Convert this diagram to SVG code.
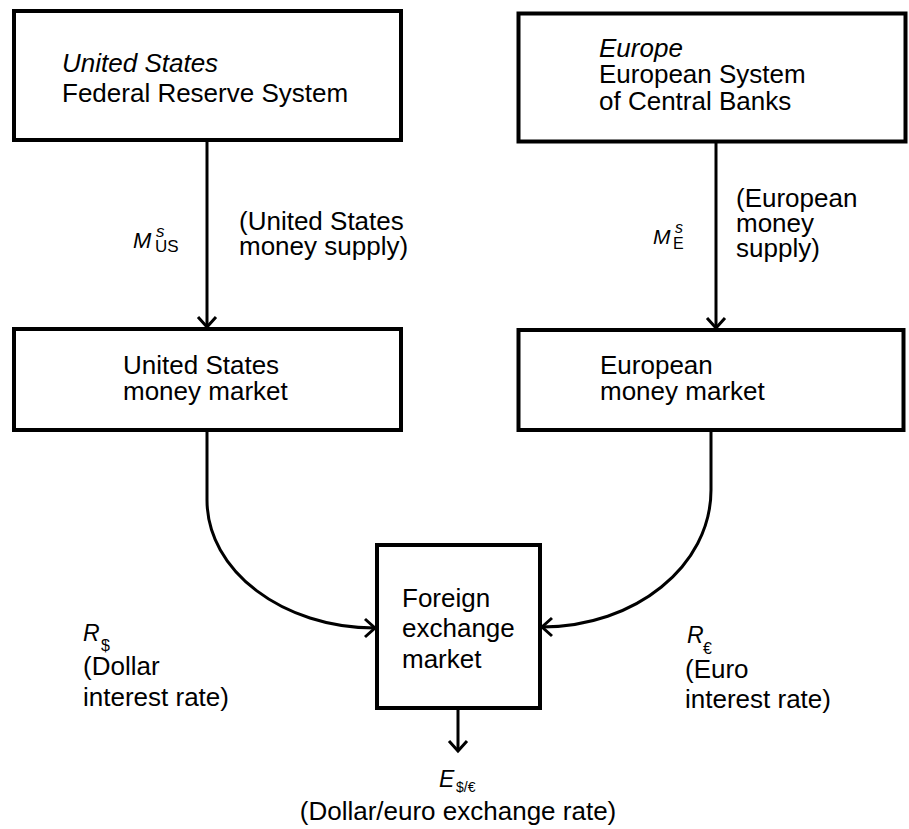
<svg xmlns="http://www.w3.org/2000/svg" width="909" height="829" viewBox="0 0 909 829">
<defs>
<style>
text{font-family:"Liberation Sans",Arial,sans-serif;font-size:26px;fill:#000}
.it{font-style:italic}
.sub{font-size:16px}
.box{fill:#fff;stroke:#000;stroke-width:4}
.conn{fill:none;stroke:#000;stroke-width:3}
</style>
<marker id="ah" markerUnits="userSpaceOnUse" markerWidth="24" markerHeight="24" viewBox="-12 -12 24 24" refX="0" refY="0" orient="auto">
<path d="M-10,-9 L0,0 L-10,9" fill="none" stroke="#000" stroke-width="3"/>
</marker>
</defs>
<rect width="909" height="829" fill="#fff"/>
<g id="connectors">
<path class="conn" d="M207,140 L207,327" marker-end="url(#ah)"/>
<path class="conn" d="M716,142 L716,328" marker-end="url(#ah)"/>
<path class="conn" d="M207,430 L207,500 C207,571 283,628 375,628" marker-end="url(#ah)"/>
<path class="conn" d="M711,430 L711,490 C711,566 635,627 542,627" marker-end="url(#ah)"/>
<path class="conn" d="M458,708 L458,751" marker-end="url(#ah)"/>
</g>
<g id="fed">
<rect class="box" x="14" y="11" width="387" height="129"/>
<text x="62" y="72" class="it">United States</text>
<text x="62" y="102">Federal Reserve System</text>
</g>
<g id="escb">
<rect class="box" x="518.5" y="13.5" width="387" height="128"/>
<text x="599" y="57" class="it">Europe</text>
<text x="599" y="83">European System</text>
<text x="599" y="110">of Central Banks</text>
</g>
<g id="us-money-market">
<rect class="box" x="14" y="329" width="387" height="101"/>
<text x="123" y="374">United States</text>
<text x="123" y="400">money market</text>
</g>
<g id="eu-money-market">
<rect class="box" x="518.5" y="330" width="385" height="100"/>
<text x="600" y="374">European</text>
<text x="600" y="400">money market</text>
</g>
<g id="fx-market">
<rect class="box" x="377" y="545" width="163" height="163"/>
<text x="402" y="607">Foreign</text>
<text x="402" y="637">exchange</text>
<text x="402" y="668">market</text>
</g>
<g id="label-us-supply">
<text x="133" y="248" class="it" style="font-size:22px">M</text>
<text x="156" y="237" class="it" style="font-size:17px">s</text>
<text x="155" y="252" style="font-size:17px">US</text>
<text x="239" y="230">(United States</text>
<text x="239" y="255">money supply)</text>
</g>
<g id="label-eu-supply">
<text x="653" y="244" class="it" style="font-size:21px">M</text>
<text x="675" y="233" class="it" style="font-size:16px">s</text>
<text x="673" y="249" style="font-size:16px">E</text>
<text x="736" y="207">(European</text>
<text x="736" y="232">money</text>
<text x="736" y="257">supply)</text>
</g>
<g id="label-dollar-rate">
<text x="83" y="641" class="it" style="font-size:23px">R</text>
<text x="101" y="651" class="sub">$</text>
<text x="83" y="675">(Dollar</text>
<text x="83" y="706">interest rate)</text>
</g>
<g id="label-euro-rate">
<text x="687" y="643" class="it" style="font-size:23px">R</text>
<text x="703" y="654" class="sub">€</text>
<text x="685" y="678">(Euro</text>
<text x="685" y="708">interest rate)</text>
</g>
<g id="label-exchange-rate">
<text x="439" y="787" class="it" style="font-size:23px">E</text>
<text x="456" y="792" style="font-size:14px">$/€</text>
<text x="458" y="820" text-anchor="middle">(Dollar/euro exchange rate)</text>
</g>
</svg>
